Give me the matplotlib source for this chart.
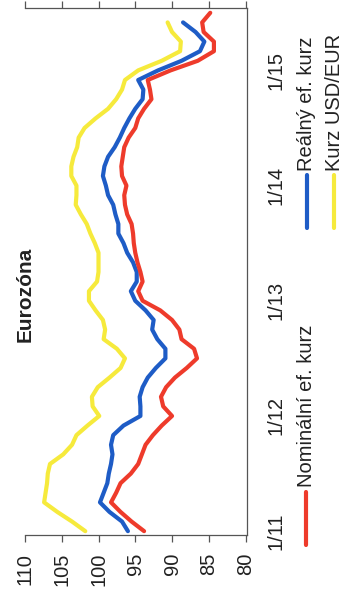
import numpy as np
import matplotlib
matplotlib.use("Agg")
import matplotlib.pyplot as plt
from matplotlib.lines import Line2D

plt.rcParams['font.family'] = ['Liberation Sans', 'DejaVu Sans']

# Monthly index values from January 2011
nominal = [93.8, 95.5, 97.0, 98.3, 97.6, 97.0, 95.6, 94.6, 94.1, 93.6,
           92.6, 91.4, 90.0, 91.2, 91.5, 90.8, 89.6, 88.0, 86.6, 87.0,
           88.7, 89.0, 90.0, 91.6, 94.0, 94.6, 94.0, 94.3, 94.7, 95.0,
           95.2, 95.3, 95.5, 96.1, 96.4, 96.5, 96.2, 96.8, 96.9, 96.7,
           96.5, 95.9, 95.0, 94.6, 93.8, 92.8, 93.0, 93.3, 90.2, 86.5,
           84.3, 84.3, 85.7, 85.9, 84.8]
real = [96.0, 96.8, 98.5, 99.8, 99.3, 98.8, 98.6, 98.3, 98.1, 98.3,
        98.0, 96.6, 94.3, 94.3, 94.4, 94.0, 93.3, 92.2, 90.9, 90.9,
        92.0, 92.7, 92.5, 93.6, 95.0, 95.6, 94.8, 94.8, 95.3, 96.1,
        96.6, 97.3, 97.3, 97.7, 98.0, 98.7, 99.0, 99.4, 99.2, 98.7,
        97.8, 97.1, 96.5, 95.8, 95.0, 94.0, 93.9, 94.6, 91.9, 88.7,
        86.2, 85.6, 86.8, 88.5]
usd_eur = [101.8, 103.6, 105.6, 107.4, 107.2, 107.0, 106.9, 106.6, 104.8, 103.6,
           103.0, 101.5, 99.9, 100.8, 100.9, 100.1, 98.5, 97.0, 96.4, 97.5,
           99.3, 99.1, 99.4, 100.4, 101.3, 101.3, 100.2, 100.0, 100.0, 100.0,
           100.5, 101.1, 101.6, 102.4, 103.1, 103.0, 103.0, 103.7, 103.7, 103.4,
           102.9, 102.7, 101.9, 100.4, 98.7, 97.6, 96.8, 96.4, 94.6, 91.4,
           88.9, 88.8, 90.0, 90.6]

value_ticks = [110, 105, 100, 95, 90, 85, 80]
time_tick_pos = [0, 12, 24, 36, 48]
time_tick_labels = ['1/11', '1/12', '1/13', '1/14', '1/15']
series_names = ['Nominální ef. kurz', 'Reálný ef. kurz', 'Kurz USD/EUR']
colors = ['#ee3b2b', '#1e5cc6', '#f6ea3c']

W, H = 344, 612
fig = plt.figure(figsize=(W / 100, H / 100), dpi=100)
fig.patch.set_facecolor('white')

def fx(px):
    return px / W

def fy(py):
    return 1 - py / H

ax = fig.add_axes([fx(25), fy(535), fx(247) - fx(25), fy(8) - fy(535)])

# Rotated layout: values run horizontally (reversed), time runs upward
for vals, c in zip([usd_eur, real, nominal], [colors[2], colors[1], colors[0]]):
    ax.plot(vals, np.arange(len(vals)), color=c, lw=3.0, solid_capstyle='round',
            solid_joinstyle='round')

ax.set_xlim(110, 79.8)
ax.set_ylim(-0.4, 54.5)

ax.spines['left'].set_visible(False)
for s in ['top', 'bottom', 'right']:
    ax.spines[s].set_color('#555555')
    ax.spines[s].set_linewidth(0.9)

ax.set_xticks(value_ticks)
ax.set_xticklabels([str(v) for v in value_ticks], rotation=90)
ax.tick_params(axis='x', which='both', direction='out', length=5, width=0.9,
               color='#555555', top=True, labeltop=False, bottom=True,
               labelsize=14.5, labelcolor='#222222', pad=8)

ax.yaxis.tick_right()
ax.set_yticks(time_tick_pos)
ax.set_yticklabels(time_tick_labels, rotation=90, va='center')
ax.tick_params(axis='y', which='both', length=0, labelsize=14.5,
               labelcolor='#222222', pad=14, left=False)

fig.text(fx(25), fy(294), 'Eurozóna', rotation=90, ha='center', va='center',
         fontsize=15, fontweight='bold', color='#222222')

# Legend entries drawn vertically along the right edge
legend_spec = [
    (306, 545, 492, 487, series_names[0], colors[0]),
    (307, 228, 175, 171, series_names[1], colors[1]),
    (334, 228, 175, 171, series_names[2], colors[2]),
]
for x, y0, y1, ty, name, c in legend_spec:
    fig.add_artist(Line2D([fx(x), fx(x)], [fy(y0), fy(y1)], transform=fig.transFigure,
                          color=c, lw=3.0, solid_capstyle='round'))
    fig.text(fx(x), fy(ty), name, rotation=90, ha='center', va='bottom',
             fontsize=14.5, color='#222222')

fig.savefig('out.png', dpi=100, facecolor='white')
